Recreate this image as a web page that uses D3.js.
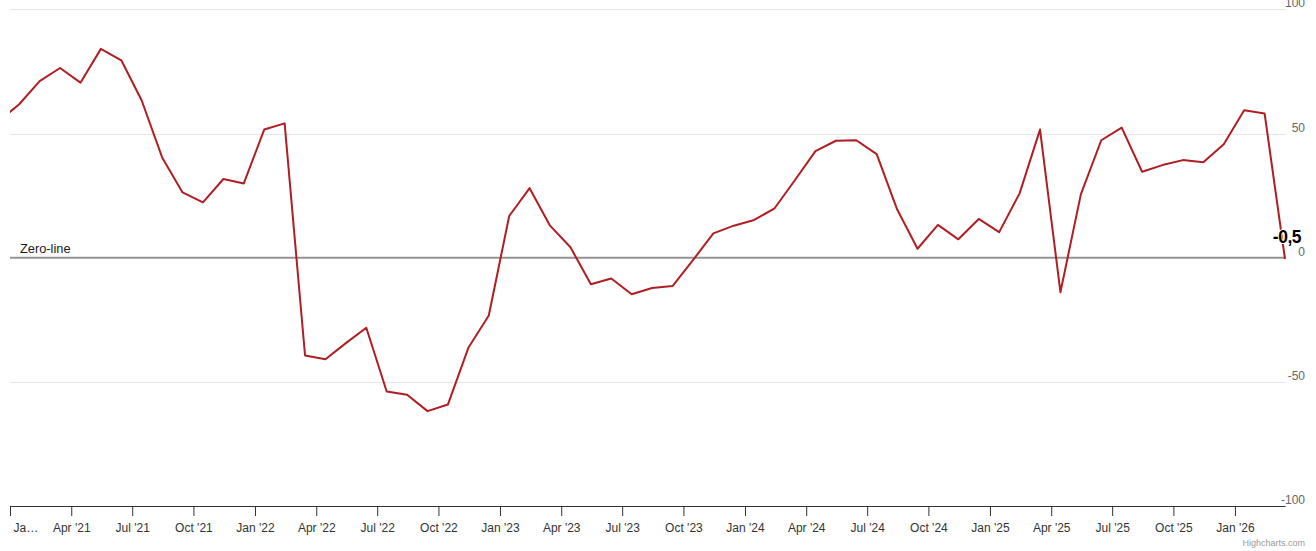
<!DOCTYPE html>
<html>
<head>
<meta charset="utf-8">
<script src="https://cdn.jsdelivr.net/npm/d3@7"></script>
<style>
  html, body { margin: 0; padding: 0; background: #fff; }
  svg { display: block; font-family: "Liberation Sans", Arial, Helvetica, sans-serif; }
</style>
</head>
<body>
<svg id="chart" width="1316" height="551"></svg>
<script>
// ---- data ----
const months = [
  "2020-12",
  "2021-01","2021-02","2021-03","2021-04","2021-05","2021-06","2021-07","2021-08","2021-09","2021-10","2021-11","2021-12",
  "2022-01","2022-02","2022-03","2022-04","2022-05","2022-06","2022-07","2022-08","2022-09","2022-10","2022-11","2022-12",
  "2023-01","2023-02","2023-03","2023-04","2023-05","2023-06","2023-07","2023-08","2023-09","2023-10","2023-11","2023-12",
  "2024-01","2024-02","2024-03","2024-04","2024-05","2024-06","2024-07","2024-08","2024-09","2024-10","2024-11","2024-12",
  "2025-01","2025-02","2025-03","2025-04","2025-05","2025-06","2025-07","2025-08","2025-09","2025-10","2025-11","2025-12",
  "2026-01","2026-02","2026-03"
];
const values = [
  55.0,
  61.8, 71.1, 76.4, 70.5, 84.1, 79.5, 63.3, 40.4, 26.3, 22.3, 31.7, 29.9,
  51.6, 54.1, -39.4, -40.9, -34.4, -28.2, -53.9, -55.2, -61.8, -59.1, -36.3, -23.3,
  16.8, 28.0, 12.9, 4.2, -10.7, -8.4, -14.7, -12.2, -11.4, -1.0, 9.8, 12.9,
  15.2, 19.9, 31.3, 42.9, 47.1, 47.3, 41.7, 19.5, 3.6, 13.2, 7.4, 15.6,
  10.3, 25.9, 51.6, -13.9, 25.5, 47.3, 52.4, 34.6, 37.3, 39.3, 38.4, 45.7,
  59.4, 58.1, -0.5
];
const tickMonths = ["2021-01","2021-04","2021-07","2021-10","2022-01","2022-04","2022-07","2022-10",
  "2023-01","2023-04","2023-07","2023-10","2024-01","2024-04","2024-07","2024-10",
  "2025-01","2025-04","2025-07","2025-10","2026-01"];
const tickLabels = ["Ja\u2026","Apr '21","Jul '21","Oct '21","Jan '22","Apr '22","Jul '22","Oct '22",
  "Jan '23","Apr '23","Jul '23","Oct '23","Jan '24","Apr '24","Jul '24","Oct '24",
  "Jan '25","Apr '25","Jul '25","Oct '25","Jan '26"];
const yTicks = [-100, -50, 0, 50, 100];
const lastLabel = "-0,5";
const zeroLabel = "Zero-line";

(function () {
// ---- layout ----
const plotLeft = 10, plotRight = 1285, plotTop = 9.4, plotBottom = 506;
const svg = d3.select("#chart");

const parse = d3.timeParse("%Y-%m-%d");
const dates = months.map(m => parse(m + "-15"));
function dateToIndex(t) {
  let i = d3.bisectRight(dates, t) - 1;
  i = Math.max(0, Math.min(dates.length - 2, i));
  return i + (t - dates[i]) / (dates[i + 1] - dates[i]);
}
const xMin = dateToIndex(parse(tickMonths[0] + "-01"));
const x = d3.scaleLinear().domain([xMin, months.length - 1]).range([plotLeft, plotRight]);
const y = d3.scaleLinear().domain([-100, 100]).range([plotBottom, plotTop]);

// gridlines
svg.append("g").selectAll("line").data(yTicks.filter(d => d !== 0)).join("line")
  .attr("x1", plotLeft).attr("x2", plotRight + 1)
  .attr("y1", d => Math.round(y(d)) + 0.5).attr("y2", d => Math.round(y(d)) + 0.5)
  .attr("stroke", "#e6e6e6").attr("stroke-width", 1);

// y labels (right side)
svg.append("g").selectAll("text").data(yTicks).join("text")
  .attr("x", 1305).attr("y", d => y(d) - 2)
  .attr("text-anchor", "end")
  .attr("font-size", 12).attr("fill", "#666")
  .text(d => d);

// zero line
svg.append("line")
  .attr("x1", plotLeft).attr("x2", plotRight + 1)
  .attr("y1", y(0)).attr("y2", y(0))
  .attr("stroke", "#949494").attr("stroke-width", 2);
svg.append("text")
  .attr("x", 20).attr("y", y(0) - 4.5)
  .attr("font-size", 12.8).attr("fill", "#1a1a1a")
  .text(zeroLabel);

// x axis
const tickIdx = tickMonths.map(m => dateToIndex(parse(m + "-01")));
const xAxis = d3.axisBottom(x)
  .tickValues(tickIdx)
  .tickFormat((d, i) => tickLabels[i])
  .tickSize(10).tickSizeOuter(0).tickPadding(7);
const gx = svg.append("g").attr("transform", `translate(0,${plotBottom})`).call(xAxis);
gx.select(".domain").attr("stroke", "#333").attr("stroke-width", 1.2);
gx.selectAll(".tick line").attr("stroke", "#333");
gx.selectAll(".tick text")
  .attr("font-family", "Liberation Sans, Arial, sans-serif")
  .attr("font-size", 12).attr("fill", "#333");
gx.selectAll(".tick").filter((d, i) => i === 0).select("text")
  .attr("text-anchor", "start").attr("x", 3);

// clip
svg.append("clipPath").attr("id", "clip").append("rect")
  .attr("x", plotLeft).attr("y", 0).attr("width", plotRight - plotLeft + 2).attr("height", 551);

// line
const line = d3.line().x((d, i) => x(i)).y(d => y(d));
svg.append("path")
  .datum(values)
  .attr("clip-path", "url(#clip)")
  .attr("d", line)
  .attr("fill", "none")
  .attr("stroke", "#b01e23")
  .attr("stroke-width", 2)
  .attr("stroke-linejoin", "round");

// last value label
const li = values.length - 1;
svg.append("text")
  .attr("x", x(li) + 16).attr("y", y(values[li]) - 16)
  .attr("text-anchor", "end")
  .attr("font-size", 17.5).attr("font-weight", "bold")
  .attr("fill", "#000")
  .attr("stroke", "#fff").attr("stroke-width", 2).attr("paint-order", "stroke")
  .attr("letter-spacing", -0.5)
  .text(lastLabel);

// credits
svg.append("text")
  .attr("x", 1305).attr("y", 546)
  .attr("text-anchor", "end")
  .attr("font-size", 9).attr("fill", "#999")
  .text("Highcharts.com");
})();
</script>
</body>
</html>
